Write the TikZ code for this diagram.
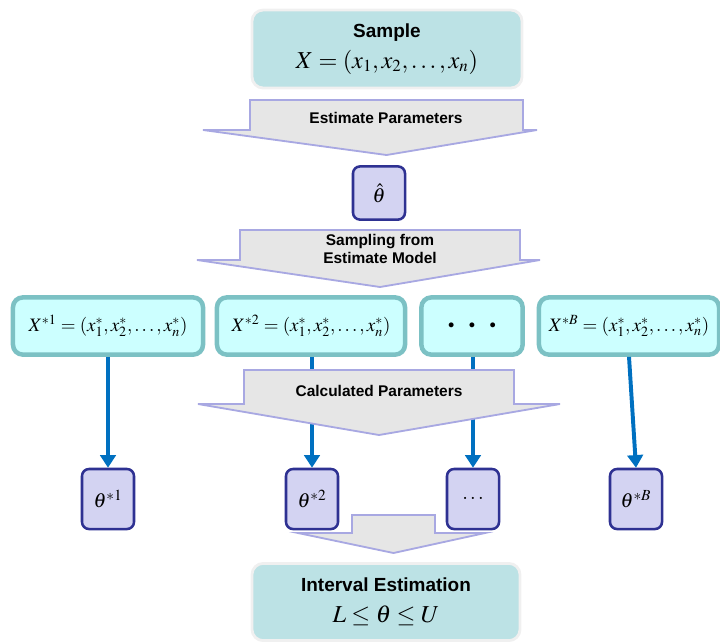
\documentclass[tikz,border=0pt]{standalone}
\usepackage{mathptmx}
\usepackage[no-math]{fontspec}
\usepackage{tikz}
\usetikzlibrary{arrows.meta}
\setsansfont{Liberation Sans}
\definecolor{bsTeal}{HTML}{BCE2E5}
\definecolor{bsCyan}{HTML}{CCFFFF}
\definecolor{bsCyanLine}{HTML}{7CC1C4}
\definecolor{bsLav}{HTML}{D3D3F2}
\definecolor{bsNavy}{HTML}{2E3192}
\definecolor{bsBlue}{HTML}{0070C0}
\definecolor{bsGray}{HTML}{E6E6E6}
\definecolor{bsEdge}{HTML}{A8A8E2}
\newcommand{\lbl}{\sffamily\bfseries}
% block arrow: top y, rect left, rect right, wing y, wing left, wing right, tip y
\newcommand{\blockarrow}[7]{%
  \draw[grayarrow] (#2,#1) -- (#3,#1) -- (#3,#4) -- (#6,#4)
    -- ({(#2+#3)/2},#7) -- (#5,#4) -- (#2,#4) -- cycle;}

\begin{document}
\begin{tikzpicture}[x=0.025cm,y=-0.025cm,
    tealbox/.style={draw=gray!12,line width=2pt,fill=bsTeal,rounded corners=8pt,align=center,font=\LARGE},
    samplebox/.style={draw=bsCyanLine,line width=3.2pt,fill=bsCyan,rounded corners=7pt,minimum height=1.43cm,font=\fontsize{13.5}{16}\selectfont},
    thetabox/.style={draw=bsNavy,line width=1.8pt,fill=bsLav,rounded corners=5pt,minimum width=1.3cm,minimum height=1.5cm,font=\Large},
    grayarrow/.style={draw=bsEdge,line width=1.3pt,fill=bsGray},
    bluearrow/.style={draw=bsBlue,line width=2.8pt,-{Triangle[width=11pt,length=9pt]}},
    arrowlbl/.style={font=\lbl\fontsize{11}{13}\selectfont,align=center,inner sep=0pt}]
  \useasboundingbox (0,0) rectangle (720,641);

  \node[tealbox,minimum width=6.75cm,minimum height=1.95cm] (sample) at (387,49)
    {{\fontsize{13.5}{16}\selectfont\lbl Sample}\\ $X=(x_1,x_2,\ldots,x_n)$};
  \node[thetabox,minimum height=1.33cm] (thetahat) at (379,193) {$\hat{\theta}$};

  \node[samplebox,minimum width=4.75cm] (x1) at (108,326)
    {$X^{*1}=(x_1^*,x_2^*,\ldots,x_n^*)$};
  \node[samplebox,minimum width=4.7cm] (x2) at (311,326)
    {$X^{*2}=(x_1^*,x_2^*,\ldots,x_n^*)$};
  \node[samplebox,minimum width=2.53cm] (x3) at (472,326)
    {\small$\bullet\quad\bullet\quad\bullet$};
  \node[samplebox,minimum width=4.5cm] (x4) at (629,326)
    {$X^{*B}=(x_1^*,x_2^*,\ldots,x_n^*)$};

  \node[thetabox] (t1) at (108,499) {$\theta^{*1}$};
  \node[thetabox] (t2) at (312,499) {$\theta^{*2}$};
  \node[thetabox] (t3) at (473,499) {$\cdots$};
  \node[thetabox] (t4) at (636,499) {$\theta^{*B}$};

  \node[tealbox,minimum width=6.7cm,minimum height=1.93cm] (interval) at (386,602)
    {{\fontsize{13.5}{16}\selectfont\lbl Interval Estimation}\\ $L\le\theta\le U$};

  \draw[bluearrow] (x1.south) -- (t1.north);
  \draw[bluearrow] (t2.north |- x2.south) -- (t2.north);
  \draw[bluearrow] (t3.north |- x3.south) -- (t3.north);
  \draw[bluearrow] (x4.south) -- (t4.north);

  \blockarrow{100}{250}{523}{130}{203}{537}{155}
  \node[arrowlbl] (estlbl) at (386,118) {Estimate Parameters};
  \blockarrow{230}{240}{520}{260}{197}{540}{287}
  \node[arrowlbl] (samplbl) at (380,249) {Sampling from\\Estimate Model};
  \blockarrow{370}{244}{514}{404}{198}{560}{435}
  \node[arrowlbl] (calclbl) at (379,391) {Calculated Parameters};
  \blockarrow{515}{352}{435}{533}{298}{485}{553}
\end{tikzpicture}
\end{document}
